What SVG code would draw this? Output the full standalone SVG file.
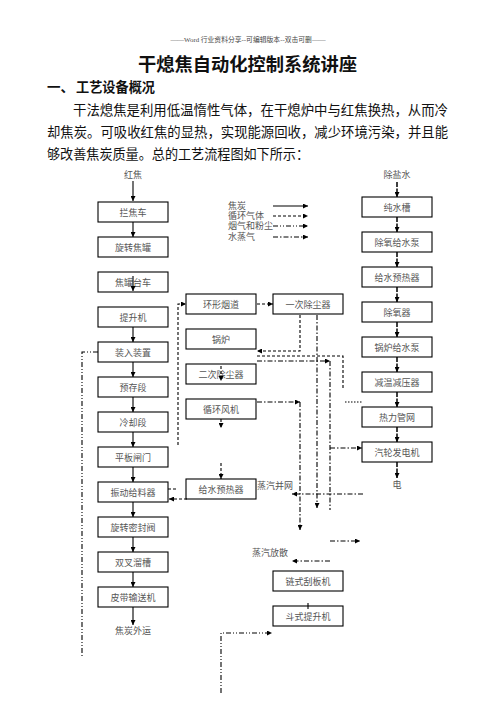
<svg xmlns="http://www.w3.org/2000/svg" width="496" height="702" viewBox="0 0 496 702">
<defs>
<marker id="a" viewBox="0 0 6 6" refX="6" refY="3" markerWidth="5" markerHeight="5" markerUnits="userSpaceOnUse" orient="auto"><path d="M0,0 L6,3 L0,6 z" fill="#000"/></marker>
<style>
.box{fill:#fff;stroke:#000;stroke-width:1.1}
.t{font-family:"Liberation Serif","Noto Sans CJK SC",serif;font-size:9px;fill:#555;text-anchor:middle}
.l{font-family:"Liberation Serif","Noto Sans CJK SC",serif;font-size:9px;fill:#555}
.h{font-family:"Noto Sans CJK SC",sans-serif;fill:#111}
.c{fill:none;stroke:#000;stroke-width:1.1}
.s{}
.d{stroke-dasharray:3 2}
.dd{stroke-dasharray:5 2 1 2 1 2}
.dt{stroke-dasharray:5 2 1.5 2}
.r{stroke-width:1.5;stroke-dasharray:5 1.5}
</style>
</defs>
<rect width="496" height="702" fill="#fff"/>
<text x="248" y="42" font-family="Liberation Serif,'Noto Sans CJK SC',serif" font-size="6.5" fill="#444" text-anchor="middle" textLength="155" lengthAdjust="spacingAndGlyphs">——Word 行业资料分享--可编辑版本--双击可删——</text>
<text class="h" x="138" y="71" font-size="18" font-weight="bold" textLength="219" lengthAdjust="spacingAndGlyphs">干熄焦自动化控制系统讲座</text>
<text class="h" x="47" y="92" font-size="13.5" font-weight="bold">一、</text>
<text class="h" x="76" y="92" font-size="13.5" font-weight="bold" textLength="79" lengthAdjust="spacingAndGlyphs">工艺设备概况</text>
<text class="h" x="73" y="115" font-size="13.5" textLength="375" lengthAdjust="spacingAndGlyphs">干法熄焦是利用低温惰性气体，在干熄炉中与红焦换热，从而冷</text>
<text class="h" x="47" y="137" font-size="13.5" textLength="401" lengthAdjust="spacingAndGlyphs">却焦炭。可吸收红焦的显热，实现能源回收，减少环境污染，并且能</text>
<text class="h" x="47" y="159" font-size="13.5" textLength="262" lengthAdjust="spacingAndGlyphs">够改善焦炭质量。总的工艺流程图如下所示：</text>

<g id="labels">
<text class="t" x="133" y="178">红焦</text>
<text class="t" x="397" y="178">除盐水</text>
<text class="t" x="133" y="634">焦炭外运</text>
<text class="t" x="397" y="488">电</text>
<text class="l" x="257" y="489">蒸汽并网</text>
<text class="l" x="252" y="556">蒸汽放散</text>
</g>

<g id="legend">
<text class="l" x="228" y="209">焦炭</text>
<text class="l" x="228" y="219">循环气体</text>
<text class="l" x="228" y="229">烟气和粉尘</text>
<text class="l" x="228" y="240">水蒸气</text>
<path class="c s" d="M273,206 H308" marker-end="url(#a)"/>
<path class="c d" d="M273,216 H308" marker-end="url(#a)"/>
<path class="c dd" d="M273,226 H308" marker-end="url(#a)"/>
<path class="c dt" d="M273,237 H308" marker-end="url(#a)"/>
</g>

<g id="n-lanjiaoche"><rect class="box" x="98" y="202" width="70" height="20"/><text class="t" x="133" y="215.5">拦焦车</text></g>
<g id="n-xuanzhuanjiaoguan"><rect class="box" x="98" y="237" width="70" height="20"/><text class="t" x="133" y="250.5">旋转焦罐</text></g>
<g id="n-jiaoguantaiche"><rect class="box" x="98" y="272" width="70" height="20"/><text class="t" x="133" y="285.5">焦罐台车</text></g>
<g id="n-tishengji"><rect class="box" x="98" y="307" width="70" height="20"/><text class="t" x="133" y="320.5">提升机</text></g>
<g id="n-zhuangru"><rect class="box" x="98" y="342" width="70" height="20"/><text class="t" x="133" y="355.5">装入装置</text></g>
<g id="n-yucun"><rect class="box" x="98" y="377" width="70" height="20"/><text class="t" x="133" y="390.5">预存段</text></g>
<g id="n-lengque"><rect class="box" x="98" y="412" width="70" height="20"/><text class="t" x="133" y="425.5">冷却段</text></g>
<g id="n-pingban"><rect class="box" x="98" y="447" width="70" height="20"/><text class="t" x="133" y="460.5">平板闸门</text></g>
<g id="n-zhendong"><rect class="box" x="98" y="482" width="70" height="20"/><text class="t" x="133" y="495.5">振动给料器</text></g>
<g id="n-mifeng"><rect class="box" x="98" y="517" width="70" height="20"/><text class="t" x="133" y="530.5">旋转密封阀</text></g>
<g id="n-liucao"><rect class="box" x="98" y="552" width="70" height="20"/><text class="t" x="133" y="565.5">双叉溜槽</text></g>
<g id="n-pidai"><rect class="box" x="98" y="587" width="70" height="20"/><text class="t" x="133" y="600.5">皮带输送机</text></g>

<g id="n-huanxing"><rect class="box" x="186" y="294" width="70" height="20"/><text class="t" x="221" y="307.5">环形烟道</text></g>
<g id="n-yici"><rect class="box" x="273" y="294" width="70" height="20"/><text class="t" x="308" y="307.5">一次除尘器</text></g>
<g id="n-guolu"><rect class="box" x="186" y="329" width="70" height="20"/><text class="t" x="221" y="342.5">锅炉</text></g>
<g id="n-erci"><rect class="box" x="186" y="364" width="70" height="20"/><text class="t" x="221" y="377.5">二次除尘器</text></g>
<g id="n-fengji"><rect class="box" x="186" y="399" width="70" height="20"/><text class="t" x="221" y="412.5">循环风机</text></g>
<g id="n-yure1"><rect class="box" x="186" y="479" width="70" height="20"/><text class="t" x="221" y="492.5">给水预热器</text></g>
<g id="n-guaban"><rect class="box" x="273" y="571" width="70" height="20"/><text class="t" x="308" y="584.5">链式刮板机</text></g>
<g id="n-doushi"><rect class="box" x="273" y="606" width="70" height="20"/><text class="t" x="308" y="619.5">斗式提升机</text></g>

<g id="n-chunshui"><rect class="box" x="362" y="197" width="70" height="20"/><text class="t" x="397" y="210.5">纯水槽</text></g>
<g id="n-chuyangbeng"><rect class="box" x="362" y="232" width="70" height="20"/><text class="t" x="397" y="245.5">除氧给水泵</text></g>
<g id="n-yure2"><rect class="box" x="362" y="267" width="70" height="20"/><text class="t" x="397" y="280.5">给水预热器</text></g>
<g id="n-chuyangqi"><rect class="box" x="362" y="302" width="70" height="20"/><text class="t" x="397" y="315.5">除氧器</text></g>
<g id="n-guolubeng"><rect class="box" x="362" y="337" width="70" height="20"/><text class="t" x="397" y="350.5">锅炉给水泵</text></g>
<g id="n-jianwen"><rect class="box" x="362" y="372" width="70" height="20"/><text class="t" x="397" y="385.5">减温减压器</text></g>
<g id="n-reli"><rect class="box" x="362" y="407" width="70" height="20"/><text class="t" x="397" y="420.5">热力管网</text></g>
<g id="n-qilun"><rect class="box" x="362" y="442" width="70" height="20"/><text class="t" x="397" y="455.5">汽轮发电机</text></g>

<g id="connectors">
<path class="c" d="M133,181 V201" marker-end="url(#a)"/>
<path class="c" d="M133,222 V237" marker-end="url(#a)"/>
<path class="c" d="M133,276 V291" marker-end="url(#a)"/>
<path class="c" d="M133,327 V342" marker-end="url(#a)"/>
<path class="c" d="M133,362 V377" marker-end="url(#a)" stroke-width="1.5"/>
<path class="c" d="M133,397 V412" marker-end="url(#a)"/>
<path class="c" d="M133,432 V447" marker-end="url(#a)"/>
<path class="c" d="M133,467 V482" marker-end="url(#a)"/>
<path class="c" d="M133,502 V517" marker-end="url(#a)"/>
<path class="c" d="M133,537 V552" marker-end="url(#a)"/>
<path class="c" d="M133,572 V587" marker-end="url(#a)"/>
<path class="c" d="M133,607 V625" marker-end="url(#a)"/>
<path class="c dd" d="M98,352 H82 V657"/>

<path class="c d" d="M178,445 V304 H186" marker-end="url(#a)"/>
<path class="c d" d="M257,304 H273" marker-end="url(#a)"/>
<path class="c d" d="M300,315 V351 H257" marker-end="url(#a)"/>
<path class="c d" d="M257,356 H343 V390"/>
<path class="c dt" d="M257,361 H330" marker-end="url(#a)"/>
<path class="c dt" d="M330,361 V510"/>
<path class="c dt" d="M330,448 H362" marker-end="url(#a)"/>
<path class="c dt" d="M317,315 V508" marker-end="url(#a)" stroke-width="1.4"/>
<path class="c d" d="M221,366 V381" marker-end="url(#a)"/>
<path class="c d" d="M221,419 V428" marker-end="url(#a)"/>
<path class="c d" d="M221,463 V479" marker-end="url(#a)"/>
<path class="c dt" d="M257,402 H300" marker-end="url(#a)"/>
<path class="c dt" d="M300,402 V530" marker-end="url(#a)"/>
<path class="c d" d="M187,499 H169" marker-end="url(#a)"/>
<path class="c d" d="M168,489 H176"/>
<path class="c dt" d="M363,494 H292" marker-end="url(#a)"/>
<path class="c dt" d="M330,541 H360" marker-end="url(#a)"/>
<path class="c dt" d="M330,561 H292" marker-end="url(#a)"/>
<path class="c" d="M308,603 V609"/>
<path class="c dd" d="M221,693 V633 H272" marker-end="url(#a)"/>
<path class="c" d="M345,402 H362" stroke-dasharray="1.5 1.5"/>

<path class="c r" d="M397,182 V197" marker-end="url(#a)"/>
<path class="c r" d="M397,217 V232" marker-end="url(#a)"/>
<path class="c r" d="M397,252 V267" marker-end="url(#a)"/>
<path class="c r" d="M397,287 V302" marker-end="url(#a)"/>
<path class="c r" d="M397,322 V337" marker-end="url(#a)"/>
<path class="c r" d="M397,357 V372" marker-end="url(#a)"/>
<path class="c r" d="M397,392 V407" marker-end="url(#a)"/>
<path class="c r" d="M397,427 V442" marker-end="url(#a)"/>
<path class="c r" d="M397,462 V478" marker-end="url(#a)"/>
</g>
</svg>
